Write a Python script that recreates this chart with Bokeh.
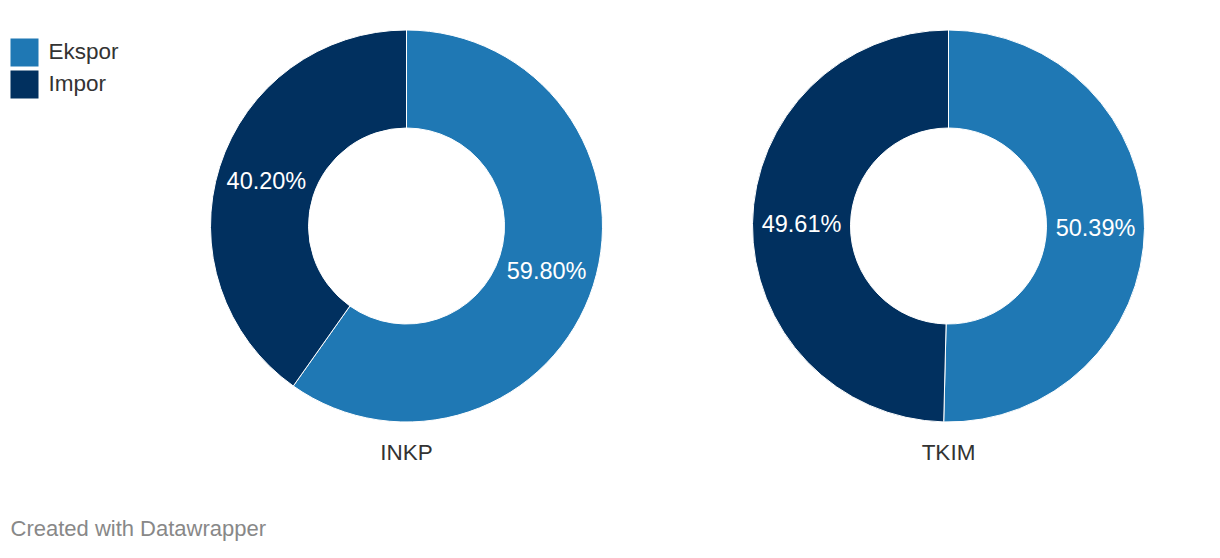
import math
from bokeh.plotting import figure
from bokeh.models import Range1d, ColumnDataSource
from bokeh.core.properties import value
from bokeh.embed import file_html
from bokeh.resources import INLINE

# ---- data ----
charts = ["INKP", "TKIM"]
categories = ["Ekspor", "Impor"]
inkp_values = [59.80, 40.20]
tkim_values = [50.39, 49.61]
colors = ["#1f78b4", "#01305f"]
credit = "Created with Datawrapper"

W, H = 1204, 542
FONT = "Liberation Sans"

p = figure(width=W, height=H, output_backend="svg", toolbar_location=None,
           x_range=Range1d(0, W), y_range=Range1d(558 - H, 558),
           min_border=0, outline_line_color=None)
p.axis.visible = False
p.grid.visible = False
p.background_fill_color = "white"
p.border_fill_color = "white"

def Y(img_y):
    return 558 - img_y

centers = [(406, 225.5), (948, 225.5)]
r_out, r_in = 196, 98
series = [inkp_values, tkim_values]

for name, vals, (cx, cy) in zip(charts, series, centers):
    total = sum(vals)
    xs, ys, starts, ends, cols, lx, ly, labels = [], [], [], [], [], [], [], []
    a = math.pi / 2
    for v, c in zip(vals, colors):
        span = v / total * 2 * math.pi
        s, e = a - span, a
        xs.append(cx); ys.append(Y(cy))
        starts.append(s); ends.append(e); cols.append(c)
        mid = (s + e) / 2
        rm = (r_in + r_out) / 2
        lx.append(cx + rm * math.cos(mid))
        ly.append(Y(cy) + rm * math.sin(mid))
        labels.append("{:.2f}%".format(v))
        a = s
    src = ColumnDataSource(dict(x=xs, y=ys, s=starts, e=ends, c=cols))
    p.annular_wedge(x="x", y="y", inner_radius=r_in, outer_radius=r_out,
                    start_angle="s", end_angle="e", fill_color="c",
                    line_color="white", line_width=1, source=src)
    lsrc = ColumnDataSource(dict(x=lx, y=ly, t=labels))
    p.text(x="x", y="y", text="t", source=lsrc, text_color="white",
           text_font=value(FONT), text_font_size="23.5px",
           text_align="center", text_baseline="middle")
    p.text(x=[cx], y=[Y(452)], text=[name], text_color="#333333",
           text_font=value(FONT), text_font_size="22.5px",
           text_align="center", text_baseline="middle")

# legend
leg_y = [52, 84]
p.rect(x=[24, 24], y=[Y(v) for v in leg_y], width=28, height=28,
       fill_color=colors, line_color=None)
p.text(x=[48, 48], y=[Y(v - 1) for v in leg_y], text=categories,
       text_color="#333333", text_font=value(FONT), text_font_size="22.5px",
       text_align="left", text_baseline="middle")

# credit
p.text(x=[10], y=[Y(528)], text=[credit], text_color="#888888",
       text_font=value(FONT), text_font_size="22px",
       text_align="left", text_baseline="middle")

open("out.html", "w").write(file_html(p, INLINE))
